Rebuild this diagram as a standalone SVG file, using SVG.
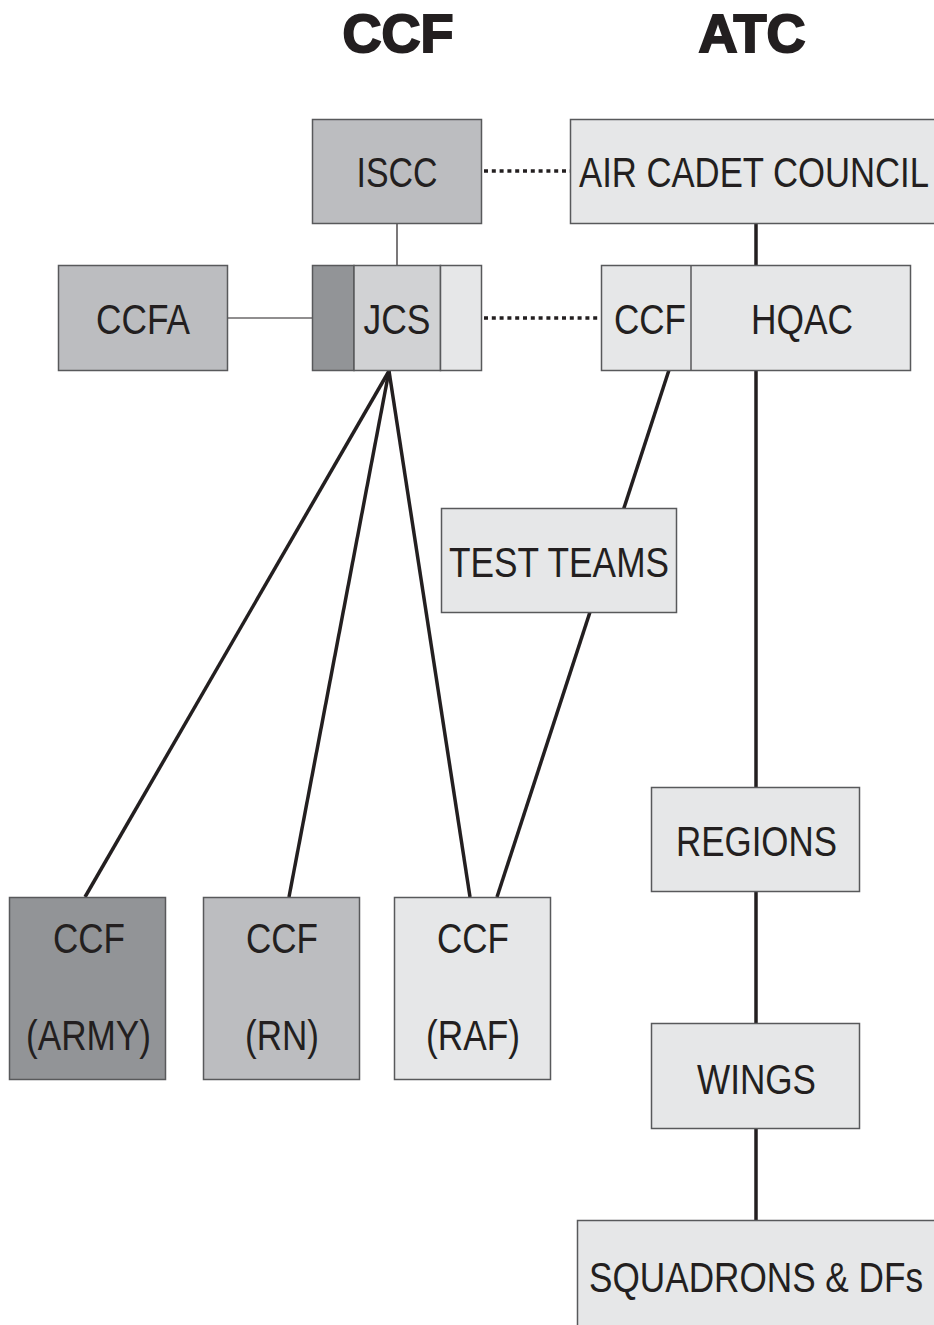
<svg xmlns="http://www.w3.org/2000/svg" width="934" height="1325" viewBox="0 0 934 1325">
<style>
.box{stroke:#58595b;stroke-width:1.5}
.d{fill:#929497}.m{fill:#bcbdc0}.l{fill:#e6e7e8}.jm{fill:#d1d2d4}
.t{font-family:"Liberation Sans",Arial,sans-serif;font-size:43px;fill:#231f20;text-anchor:middle}
.h{font-family:"Liberation Sans",Arial,sans-serif;font-size:54px;font-weight:bold;fill:#231f20;stroke:#231f20;stroke-width:2;text-anchor:middle}
.thick{stroke:#231f20;stroke-width:3.5;fill:none}
.thin{stroke:#231f20;stroke-width:1.2;fill:none}
.dot{stroke:#231f20;stroke-width:3.5;stroke-dasharray:4 3.8;fill:none}
</style>
<rect width="934" height="1325" fill="#ffffff"/>
<g id="titles">
<text class="h" x="398" y="52">CCF</text>
<text class="h" x="752" y="52">ATC</text>
</g>
<g id="connectors">
<line class="thin" x1="397" y1="223" x2="397" y2="265"/>
<line class="thin" x1="227" y1="318" x2="312" y2="318"/>
<line class="dot" x1="484" y1="171" x2="570" y2="171"/>
<line class="dot" x1="484" y1="318" x2="601" y2="318"/>
<line class="thick" x1="756" y1="223" x2="756" y2="1220"/>
<line class="thick" x1="389" y1="371" x2="85" y2="897"/>
<line class="thick" x1="389" y1="371" x2="289" y2="897"/>
<line class="thick" x1="389" y1="371" x2="470" y2="897"/>
<line class="thick" x1="669" y1="370" x2="497" y2="897"/>
</g>
<g id="iscc">
<rect class="box m" x="312.5" y="119.5" width="169" height="104"/>
<text class="t" x="397" y="187" textLength="81" lengthAdjust="spacingAndGlyphs">ISCC</text>
</g>
<g id="air-cadet-council">
<rect class="box l" x="570.5" y="119.5" width="366" height="104"/>
<text class="t" x="754" y="187" textLength="350" lengthAdjust="spacingAndGlyphs">AIR CADET COUNCIL</text>
</g>
<g id="ccfa">
<rect class="box m" x="58.5" y="265.5" width="169" height="105"/>
<text class="t" x="143" y="334" textLength="94" lengthAdjust="spacingAndGlyphs">CCFA</text>
</g>
<g id="jcs">
<rect class="box d" x="312.5" y="265.5" width="41.5" height="105"/>
<rect class="box jm" x="354" y="265.5" width="86.5" height="105"/>
<rect class="box l" x="440.5" y="265.5" width="41" height="105"/>
<text class="t" x="397" y="334" textLength="67" lengthAdjust="spacingAndGlyphs">JCS</text>
</g>
<g id="hqac">
<rect class="box l" x="601.5" y="265.5" width="309" height="105"/>
<line class="box" x1="691" y1="265.5" x2="691" y2="370.5"/>
<text class="t" x="650" y="334" textLength="72" lengthAdjust="spacingAndGlyphs">CCF</text>
<text class="t" x="802" y="334" textLength="102" lengthAdjust="spacingAndGlyphs">HQAC</text>
</g>
<g id="test-teams">
<rect class="box l" x="441.5" y="508.5" width="235" height="104"/>
<text class="t" x="559" y="577" textLength="220" lengthAdjust="spacingAndGlyphs">TEST TEAMS</text>
</g>
<g id="ccf-army">
<rect class="box d" x="9.5" y="897.5" width="156" height="182"/>
<text class="t" x="89" y="953" textLength="72" lengthAdjust="spacingAndGlyphs">CCF</text>
<text class="t" x="88.5" y="1050" textLength="125" lengthAdjust="spacingAndGlyphs">(ARMY)</text>
</g>
<g id="ccf-rn">
<rect class="box m" x="203.5" y="897.5" width="156" height="182"/>
<text class="t" x="282" y="953" textLength="72" lengthAdjust="spacingAndGlyphs">CCF</text>
<text class="t" x="282" y="1050" textLength="74" lengthAdjust="spacingAndGlyphs">(RN)</text>
</g>
<g id="ccf-raf">
<rect class="box l" x="394.5" y="897.5" width="156" height="182"/>
<text class="t" x="473" y="953" textLength="72" lengthAdjust="spacingAndGlyphs">CCF</text>
<text class="t" x="473" y="1050" textLength="94" lengthAdjust="spacingAndGlyphs">(RAF)</text>
</g>
<g id="regions">
<rect class="box l" x="651.5" y="787.5" width="208" height="104"/>
<text class="t" x="756.5" y="856" textLength="161" lengthAdjust="spacingAndGlyphs">REGIONS</text>
</g>
<g id="wings">
<rect class="box l" x="651.5" y="1023.5" width="208" height="105"/>
<text class="t" x="756.5" y="1094" textLength="119" lengthAdjust="spacingAndGlyphs">WINGS</text>
</g>
<g id="squadrons">
<rect class="box l" x="577.5" y="1220.5" width="360" height="110"/>
<text class="t" x="756" y="1292" textLength="334" lengthAdjust="spacingAndGlyphs">SQUADRONS &amp; DFs</text>
</g>
</svg>
